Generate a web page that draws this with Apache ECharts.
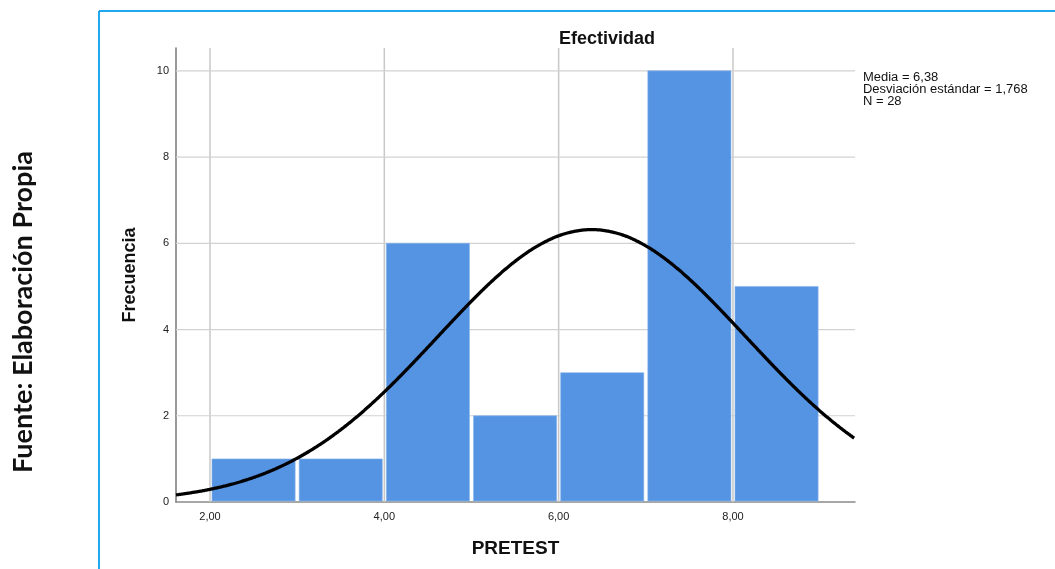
<!DOCTYPE html>
<html>
<head>
<meta charset="utf-8">
<script src="https://cdn.jsdelivr.net/npm/echarts@6/dist/echarts.min.js"></script>
<style>
  html, body { margin: 0; padding: 0; background: #fff; }
  #chart { width: 1055px; height: 569px; }
</style>
</head>
<body>
<div id="chart"></div>
<script>
// Histogram bins for PRETEST (bin width 1) and their frequencies
const binStarts = [2, 3, 4, 5, 6, 7, 8];
const binWidth = 1;
const frequencies = [1, 1, 6, 2, 3, 10, 5];

// Summary statistics shown in the legend box
const mean = 6.38;
const stdDev = 1.768;
const n = 28;

// Axis tick values
const xTicks = [2, 4, 6, 8];
const xTickLabels = ['2,00', '4,00', '6,00', '8,00'];
const yTicks = [0, 2, 4, 6, 8, 10];
const yGridLines = [2, 4, 6, 8, 10];

const xMin = 1.61, xMax = 9.40;
const yMin = 0, yMax = 10.53;

// Fitted normal curve, scaled to counts: N * binWidth * pdf(x)
const curvePoints = [];
for (let x = xMin; x <= xMax + 1e-9; x += 0.02) {
  const z = (x - mean) / stdDev;
  const y = n * binWidth * Math.exp(-0.5 * z * z) / (stdDev * Math.sqrt(2 * Math.PI));
  curvePoints.push([x, y]);
}

const barData = binStarts.map((s, i) => [s, s + binWidth, frequencies[i]]);
// grid line specs: [orientation (0 = vertical, 1 = horizontal), value]
const gridData = xTicks.map(v => [0, v]).concat(yGridLines.map(v => [1, v]));
const fmt = v => v.toFixed(2).replace('.', ',');
const fmt3 = v => v.toFixed(3).replace('.', ',');

const chart = echarts.init(document.getElementById('chart'));
const font = '"Liberation Sans", Arial, sans-serif';

chart.setOption({
  animation: false,
  backgroundColor: '#fff',
  textStyle: { fontFamily: font },
  title: {
    text: 'Efectividad',
    left: 602,
    top: 25,
    textAlign: 'center',
    textStyle: { fontSize: 18, fontWeight: 'bold', color: '#111', fontFamily: font }
  },
  grid: { left: 176, right: 200, top: 48, bottom: 67 },
  xAxis: {
    type: 'value',
    min: xMin,
    max: xMax,
    name: 'PRETEST',
    nameLocation: 'middle',
    nameGap: 37,
    nameTextStyle: { fontSize: 19, fontWeight: 'bold', color: '#111', fontFamily: font },
    axisLine: { show: true, lineStyle: { color: '#8a8a8a', width: 1.5 } },
    axisTick: { show: false },
    splitLine: { show: false },
    axisLabel: {
      customValues: xTicks,
      formatter: v => xTickLabels[xTicks.indexOf(Math.round(v))] || fmt(v),
      color: '#222',
      fontSize: 11,
      margin: 9,
      fontFamily: font
    }
  },
  yAxis: {
    type: 'value',
    min: yMin,
    max: yMax,
    interval: 2,
    name: 'Frecuencia',
    nameLocation: 'middle',
    nameGap: 37,
    nameTextStyle: { fontSize: 18, fontWeight: 'bold', color: '#111', fontFamily: font },
    axisLine: { show: true, lineStyle: { color: '#777', width: 1.5 } },
    axisTick: { show: false },
    axisLabel: {
      customValues: yTicks,
      color: '#222',
      fontSize: 11,
      margin: 7,
      fontFamily: font
    },
    splitLine: { show: false }
  },
  series: [
    {
      // grid lines behind the bars
      type: 'custom',
      silent: true,
      z: 1,
      data: gridData,
      renderItem: function (params, api) {
        const vertical = api.value(0) === 0;
        const v = api.value(1);
        const a = vertical ? api.coord([v, yMin]) : api.coord([xMin, v]);
        const b = vertical ? api.coord([v, yMax]) : api.coord([xMax, v]);
        return {
          type: 'line',
          shape: { x1: a[0], y1: a[1], x2: b[0], y2: b[1] },
          style: { stroke: vertical ? '#c8c8c8' : '#d2d2d2', lineWidth: vertical ? 1.5 : 1.2 }
        };
      }
    },
    {
      // histogram bars, slightly inset so the gaps between bins stay visible
      type: 'custom',
      z: 2,
      data: barData,
      renderItem: function (params, api) {
        const p0 = api.coord([api.value(0), api.value(2)]);
        const p1 = api.coord([api.value(1), 0]);
        const inset = 2;
        return {
          type: 'rect',
          shape: { x: p0[0] + inset, y: p0[1], width: p1[0] - p0[0] - 2 * inset, height: p1[1] - p0[1] - 1 },
          style: { fill: '#5594e2', stroke: '#8ab6ec', lineWidth: 0.6 }
        };
      }
    },
    {
      type: 'line',
      z: 3,
      data: curvePoints,
      showSymbol: false,
      smooth: true,
      lineStyle: { color: '#000', width: 3.3 }
    }
  ],
  graphic: [
    // frame lines
    { type: 'line', shape: { x1: 99, y1: 11, x2: 1055, y2: 11 }, style: { stroke: '#1fa8ef', lineWidth: 2 } },
    { type: 'line', shape: { x1: 99, y1: 11, x2: 99, y2: 569 }, style: { stroke: '#1fa8ef', lineWidth: 2 } },
    // source note
    {
      type: 'text',
      x: 23, y: 312,
      rotation: Math.PI / 2,
      style: {
        text: 'Fuente: Elaboración Propia',
        font: 'bold 27px Lato, "Open Sans", sans-serif',
        fill: '#111',
        align: 'center',
        verticalAlign: 'middle'
      }
    },
    // statistics box
    {
      type: 'text',
      x: 863, y: 72,
      scaleX: 1.08,
      style: {
        text: 'Media = ' + fmt(mean) + '\nDesviación estándar = ' + fmt3(stdDev) + '\nN = ' + n,
        font: '12px "Liberation Sans", Arial, sans-serif',
        lineHeight: 12,
        fill: '#111'
      }
    }
  ]
});
</script>
</body>
</html>
